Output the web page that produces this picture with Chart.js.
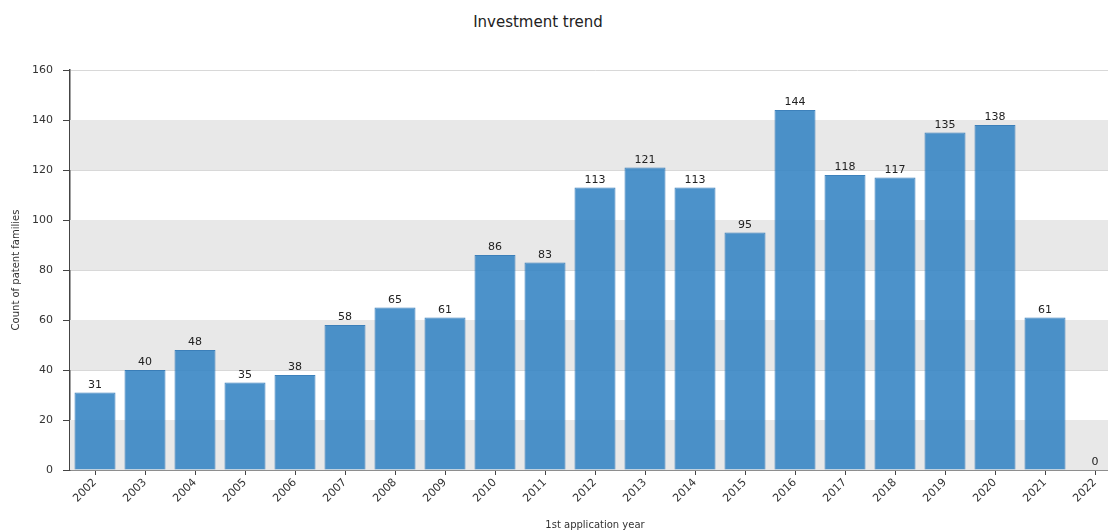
<!DOCTYPE html>
<html>
<head>
<meta charset="utf-8">
<script src="https://cdn.jsdelivr.net/npm/chart.js@4"></script>
<style>
  html, body { margin: 0; padding: 0; background: #fff; overflow: hidden; }
  #wrap { position: relative; width: 1108px; height: 531px; overflow: hidden; }
  #title { position: absolute; top: 13px; left: 0; width: 1076px; text-align: center;
           font-family: "DejaVu Sans", Verdana, sans-serif; font-size: 15px; color: #222; }
  canvas { position: absolute; left: 0; top: 0; }
</style>
</head>
<body>
<div id="wrap">
  <div id="title">Investment trend</div>
  <canvas id="trend" width="1120" height="531"></canvas>
</div>
<script>
const years = ['2002','2003','2004','2005','2006','2007','2008','2009','2010','2011',
               '2012','2013','2014','2015','2016','2017','2018','2019','2020','2021','2022']
const families = [31, 40, 48, 35, 38, 58, 65, 61, 86, 83,
                  113, 121, 113, 95, 144, 118, 117, 135, 138, 61, 0]
const yTicks = [0, 20, 40, 60, 80, 100, 120, 140, 160]

const font = "'DejaVu Sans', Verdana, sans-serif"

// grey bands every other 20 step
const bands = {
    id: 'bands',
    beforeDatasetsDraw(chart) {
        const {ctx, chartArea, scales} = chart
        ctx.save()
        ctx.fillStyle = '#e8e8e8'
        for (let i = 0; i < yTicks.length - 1; i += 2) {
            const top = scales.y.getPixelForValue(yTicks[i + 1])
            const bottom = scales.y.getPixelForValue(yTicks[i])
            ctx.fillRect(chartArea.left, top, chartArea.right - chartArea.left, bottom - top)
        }
        ctx.restore()
    }
}

const valueLabels = {
    id: 'valueLabels',
    afterDatasetsDraw(chart) {
        const {ctx} = chart
        const meta = chart.getDatasetMeta(0)
        ctx.save()
        ctx.font = '11px ' + font
        ctx.fillStyle = '#222'
        ctx.textAlign = 'center'
        ctx.textBaseline = 'bottom'
        meta.data.forEach((bar, i) => {
            ctx.fillText(String(families[i]), bar.x, bar.y - 2)
        })
        ctx.restore()
    }
}

new Chart(document.getElementById('trend'), {
    type: 'bar',
    data: {
        labels: years,
        datasets: [{
            label: 'Count of patent families',
            data: families,
            backgroundColor: 'rgba(56, 134, 196, 0.9)',
            borderColor: 'rgba(40, 115, 180, 0.9)',
            borderWidth: 1,
            barPercentage: 0.82,
            categoryPercentage: 1
        }]
    },
    options: {
        responsive: false,
        animation: false,
        layout: { padding: { top: 70, right: 0, left: 0, bottom: 0 } },
        plugins: {
            legend: { display: false },
            tooltip: { enabled: false }
        },
        scales: {
            x: {
                offset: true,
                grid: { display: true, drawOnChartArea: false, offset: false, tickLength: 5, tickColor: '#444' },
                border: { color: '#444', width: 1.5 },
                ticks: { minRotation: 45, maxRotation: 45, color: '#333', padding: 1, font: { family: font, size: 11 } },
                title: { display: true, text: '1st application year', color: '#333', font: { family: font, size: 10 }, padding: { top: 5, bottom: 0 } },
                afterFit(scale) { scale.height = 61 }
            },
            y: {
                min: 0,
                max: 160,
                ticks: { stepSize: 20, color: '#333', font: { family: font, size: 11 }, padding: 10 },
                grid: { color: '#d8d8d8', tickLength: 7, tickColor: '#444' },
                border: { color: '#444', width: 1.5 },
                title: { display: true, text: 'Count of patent families', color: '#333', font: { family: font, size: 10 }, padding: { top: 10, bottom: 0 } },
                afterFit(scale) { scale.width = 70 }
            }
        }
    },
    plugins: [bands, valueLabels]
})
</script>
</body>
</html>
